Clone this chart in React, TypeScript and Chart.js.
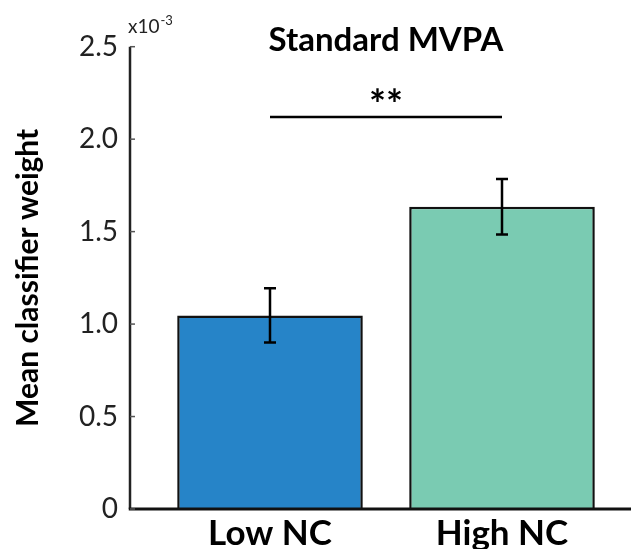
import React, { useEffect, useRef } from 'react';
import { Chart, registerables } from 'chart.js';

Chart.register(...registerables);

const categories = ['Low NC', 'High NC'];
const meanWeights = [1.047, 1.635]; // in units of 10^-3
const errWeights = [0.147, 0.15];
const barColors = ['#2684C8', '#7ACBB2'];
const yTickValues = [0, 0.5, 1.0, 1.5, 2.0, 2.5];
const chartTitle = 'Standard MVPA';
const yAxisTitle = 'Mean classifier weight';
const significanceLabel = '**';
const significancePair = [0, 1];
const significanceLevel = 2.12;
const exponentBase = 'x10';
const exponentPower = '-3';

const FONT = 'Lato, "Open Sans", sans-serif';

export default function App() {
  const ref = useRef<HTMLCanvasElement | null>(null);

  useEffect(() => {
    if (!ref.current) return;

    const overlay = {
      id: 'overlay',
      afterDraw(chart: any) {
        const ctx = chart.ctx as CanvasRenderingContext2D;
        const xs = chart.scales.x;
        const ys = chart.scales.y;
        const axisX = 130;
        const y0 = ys.getPixelForValue(0);
        const yTop = ys.getPixelForValue(yTickValues[yTickValues.length - 1]);
        ctx.save();

        // error bars
        ctx.strokeStyle = '#000';
        ctx.lineWidth = 2.5;
        meanWeights.forEach((m, i) => {
          const x = xs.getPixelForValue(i);
          const yHi = ys.getPixelForValue(m + errWeights[i]);
          const yLo = ys.getPixelForValue(m - errWeights[i]);
          ctx.beginPath();
          ctx.moveTo(x, yHi);
          ctx.lineTo(x, yLo);
          ctx.moveTo(x - 6, yHi);
          ctx.lineTo(x + 6, yHi);
          ctx.moveTo(x - 6, yLo);
          ctx.lineTo(x + 6, yLo);
          ctx.stroke();
        });

        // axes
        ctx.strokeStyle = '#222';
        ctx.lineWidth = 2.5;
        ctx.beginPath();
        ctx.moveTo(axisX, yTop);
        ctx.lineTo(axisX, y0);
        ctx.stroke();
        ctx.strokeStyle = '#111';
        ctx.lineWidth = 3;
        ctx.beginPath();
        ctx.moveTo(axisX - 1.25, y0);
        ctx.lineTo(chart.width, y0);
        ctx.stroke();

        // y tick marks
        ctx.strokeStyle = '#555';
        ctx.lineWidth = 1.5;
        yTickValues.forEach((v) => {
          const y = ys.getPixelForValue(v);
          ctx.beginPath();
          ctx.moveTo(axisX, y);
          ctx.lineTo(axisX + 5, y);
          ctx.stroke();
        });

        // significance
        const sx1 = xs.getPixelForValue(significancePair[0]);
        const sx2 = xs.getPixelForValue(significancePair[1]);
        const sy = ys.getPixelForValue(significanceLevel);
        ctx.strokeStyle = '#000';
        ctx.lineWidth = 2.5;
        ctx.beginPath();
        ctx.moveTo(sx1, sy);
        ctx.lineTo(sx2, sy);
        ctx.stroke();
        ctx.fillStyle = '#000';
        ctx.textAlign = 'center';
        ctx.textBaseline = 'alphabetic';
        ctx.font = `bold 40px ${FONT}`;
        ctx.fillText(significanceLabel, (sx1 + sx2) / 2, sy + 2);

        // title
        ctx.font = `bold 33px ${FONT}`;
        ctx.fillText(chartTitle, (sx1 + sx2) / 2, 51);

        // exponent
        ctx.textAlign = 'left';
        ctx.fillStyle = '#222';
        ctx.font = `19px ${FONT}`;
        ctx.fillText(exponentBase, 128, 33);
        const w = ctx.measureText(exponentBase).width;
        ctx.font = `13px ${FONT}`;
        ctx.fillText(exponentPower, 128 + w + 1, 25);

        ctx.restore();
      },
    };

    const zeroPad = (s: any) => {
      s.paddingTop = 0;
      s.paddingBottom = 0;
      s.paddingLeft = 0;
      s.paddingRight = 0;
    };

    const chart = new Chart(ref.current, {
      type: 'bar',
      data: {
        labels: categories,
        datasets: [
          {
            data: meanWeights,
            backgroundColor: barColors,
            borderColor: '#111',
            borderWidth: 2.5,
            barPercentage: 0.8,
            categoryPercentage: 1,
          },
        ],
      },
      options: {
        responsive: false,
        animation: false,
        layout: { padding: { top: 46.7, right: 13, left: 0, bottom: 0 } },
        plugins: {
          legend: { display: false },
          title: { display: false },
          tooltip: { enabled: false },
        },
        scales: {
          x: {
            type: 'category',
            offset: true,
            grid: { display: false, drawTicks: false },
            border: { display: false },
            ticks: {
              color: '#000',
              font: { family: FONT, size: 35, weight: 'bold' },
              padding: 4,
            },
            afterFit: (s: any) => {
              s.height = 40;
              zeroPad(s);
            },
          },
          y: {
            min: 0,
            max: 2.5,
            grid: { display: false, drawTicks: false },
            border: { display: false },
            afterBuildTicks: (s: any) => {
              s.ticks = yTickValues.map((v) => ({ value: v }));
            },
            ticks: {
              color: '#222',
              font: { family: FONT, size: 28 },
              padding: 36,
              callback: (v: any) => (Number(v) === 0 ? '0' : Number(v).toFixed(1)),
            },
            title: {
              display: true,
              text: yAxisTitle,
              color: '#000',
              font: { family: FONT, size: 30, weight: 'bold' },
              padding: { top: 10, bottom: 0 },
            },
            afterFit: (s: any) => {
              s.width = 154;
              zeroPad(s);
            },
          },
        },
      },
      plugins: [overlay],
    });

    return () => chart.destroy();
  }, []);

  return (
    <div style={{ position: 'fixed', left: 0, top: 0, width: 631, height: 549, background: '#fff' }}>
      <canvas ref={ref} width={631} height={549} />
    </div>
  );
}
